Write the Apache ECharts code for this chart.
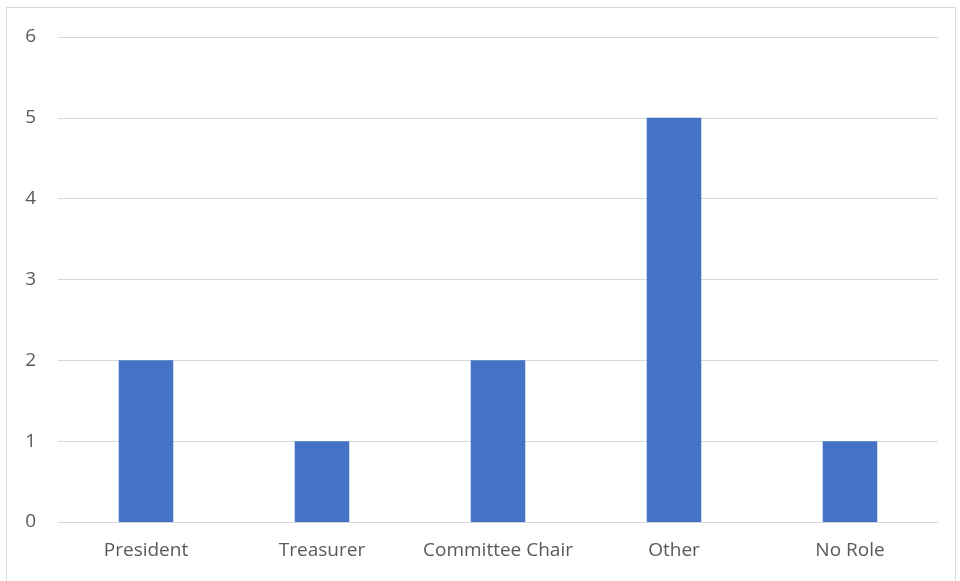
<!DOCTYPE html>
<html><head><meta charset="utf-8">
<script src="https://cdn.jsdelivr.net/npm/echarts@6/dist/echarts.min.js"></script>
<style>
html,body{margin:0;padding:0;background:#fff;}
#frame{position:absolute;left:6px;top:7px;width:950px;height:580px;border:1px solid #d9d9d9;box-sizing:border-box;}
#c{position:absolute;left:0;top:0;width:960px;height:581px;}
</style></head>
<body>
<div id="frame"></div>
<div id="c"></div>
<script>
const categories = ["President", "Treasurer", "Committee Chair", "Other", "No Role"];
const values = [2, 1, 2, 5, 1];
const yTicks = [0, 1, 2, 3, 4, 5, 6];

const chart = echarts.init(document.getElementById('c'));
chart.setOption({
  animation: false,
  grid: {left: 58, right: 22, top: 37, bottom: 59},
  xAxis: {
    type: 'category', data: categories,
    axisLine: {lineStyle: {color: '#d9d9d9', width: 1}},
    axisTick: {show: false},
    axisLabel: {color: '#595959', fontSize: 19, fontFamily: 'Open Sans, sans-serif', margin: 19, interval: 0, hideOverlap: false}
  },
  yAxis: {
    type: 'value', min: yTicks[0], max: yTicks[yTicks.length-1], interval: 1,
    axisLine: {show: false}, axisTick: {show: false},
    splitLine: {lineStyle: {color: '#d9d9d9', width: 1}},
    axisLabel: {color: '#595959', fontSize: 19, fontFamily: 'Open Sans, sans-serif', margin: 22}
  },
  series: [{
    type: 'bar', data: values, barWidth: '31%',
    itemStyle: {color: '#4472c4'}
  }]
});
</script>
</body></html>
